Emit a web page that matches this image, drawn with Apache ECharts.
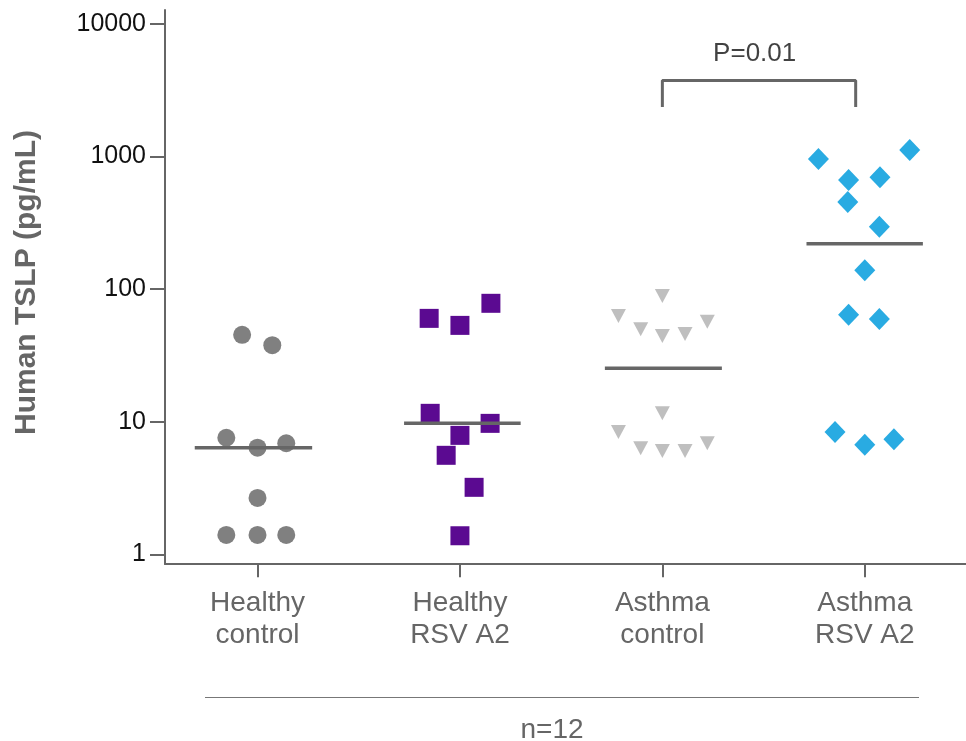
<!DOCTYPE html>
<html>
<head>
<meta charset="utf-8">
<script src="https://cdn.jsdelivr.net/npm/echarts@6/dist/echarts.min.js"></script>
<style>
html,body{margin:0;padding:0;background:#fff;}
#chart{width:966px;height:741px;}
</style>
</head>
<body>
<div id="chart"></div>
<script>
// ---- data ----
const categories = ['Healthy\ncontrol', 'Healthy\nRSV A2', 'Asthma\ncontrol', 'Asthma\nRSV A2'];
const yTicks = [1, 10, 100, 1000, 10000];

// TSLP values (pg/mL) per group and their horizontal jitter (in category units)
const healthyControl       = [45.2, 37.8, 7.57, 6.37, 6.88, 2.66, 1.40, 1.40, 1.40];
const healthyControlJitter = [-0.076, 0.073, -0.154, 0, 0.142, 0, -0.154, 0, 0.142];

const healthyRSV       = [78.2, 60.2, 53.3, 11.57, 9.72, 7.89, 5.58, 3.20, 1.38];
const healthyRSVJitter = [0.153, -0.152, 0, -0.147, 0.149, 0, -0.068, 0.070, 0];

const asthmaControl       = [88.7, 62.7, 49.8, 44.3, 45.9, 56.8, 11.57, 8.36, 6.30, 6.01, 6.01, 6.87];
const asthmaControlJitter = [0, -0.217, -0.107, 0, 0.112, 0.222, 0, -0.217, -0.107, 0, 0.112, 0.222];

const asthmaRSV       = [957, 1120, 665, 697, 454, 296, 138.6, 64.1, 59.5, 8.36, 6.71, 7.37];
const asthmaRSVJitter = [-0.229, 0.222, -0.080, 0.075, -0.084, 0.072, 0, -0.080, 0.072, -0.147, 0, 0.144];

// median lines: value and extent (category units, relative to group centre)
const medians      = [6.37, 9.72, 25.3, 220];
const medianLeft   = [-0.31, -0.276, -0.284, -0.288];
const medianRight  = [0.27, 0.300, 0.294, 0.287];

// significance bracket between groups 2 and 3
const bracketFrom = 2.0, bracketTo = 2.955;
const bracketTop = 3750, bracketBottom = 2362;
const pLabel = 'P=0.01';
const pLabelX = 2.456;
const nLabel = 'n=12';

// ---- build options ----
const FONT = "'Liberation Sans', Arial, Helvetica, sans-serif";
const AX = '#666666';

function pts(vals, jit, g) { return vals.map((v, i) => [g + jit[i], v]); }

const groups = [
  {vals: healthyControl, jit: healthyControlJitter, symbol: 'circle',   size: 18,       color: '#808080', rot: 0},
  {vals: healthyRSV,     jit: healthyRSVJitter,     symbol: 'rect',     size: 19,       color: '#5b0a91', rot: 0},
  {vals: asthmaControl,  jit: asthmaControlJitter,  symbol: 'triangle', size: [15, 14], color: '#bfbfbf', rot: 180},
  {vals: asthmaRSV,      jit: asthmaRSVJitter,      symbol: 'diamond',  size: [21, 22], color: '#29abe2', rot: 0}
];

const series = [];
groups.forEach((g, gi) => {
  series.push({
    type: 'scatter', xAxisIndex: 0, yAxisIndex: 0,
    data: pts(g.vals, g.jit, gi),
    symbol: g.symbol, symbolSize: g.size, symbolRotate: g.rot,
    itemStyle: {color: g.color, opacity: 1},
    z: 2, silent: true
  });
});
medians.forEach((m, gi) => {
  series.push({
    type: 'line', xAxisIndex: 0, yAxisIndex: 0,
    data: [[gi + medianLeft[gi], m], [gi + medianRight[gi], m]],
    symbol: 'none', lineStyle: {color: AX, width: 3.5}, z: 3, silent: true
  });
});
series.push({
  type: 'line', xAxisIndex: 0, yAxisIndex: 0,
  data: [[bracketFrom, bracketBottom], [bracketFrom, bracketTop], [bracketTo, bracketTop], [bracketTo, bracketBottom]],
  symbol: 'none', lineStyle: {color: AX, width: 3}, z: 3, silent: true
});
series.push({
  type: 'scatter', xAxisIndex: 0, yAxisIndex: 0,
  data: [[pLabelX, bracketTop]], symbolSize: 0,
  label: {show: true, position: 'top', distance: 14, formatter: pLabel,
          fontSize: 26, color: '#111', fontFamily: FONT},
  silent: true
});

const option = {
  animation: false,
  backgroundColor: '#fff',
  textStyle: {fontFamily: FONT},
  grid: [
    {left: 165, right: 0, top: 24, bottom: 741 - 554.3, outerBoundsMode: 'none', containLabel: false},
    {left: 165, right: 0, top: 10, bottom: 741 - 564, outerBoundsMode: 'none', containLabel: false}
  ],
  xAxis: [
    {
      type: 'value', gridIndex: 0, min: -0.457, max: 3.5, offset: 10, position: 'bottom',
      axisLine: {show: false, onZero: false},
      axisTick: {show: true, customValues: [0, 1, 2, 3], length: 13, lineStyle: {color: AX, width: 2}},
      axisLabel: {show: true, customValues: [0, 1, 2, 3],
                  formatter: v => categories[Math.round(v)],
                  fontSize: 28, lineHeight: 32, color: '#666', margin: 23, fontFamily: FONT},
      splitLine: {show: false}
    },
    {
      type: 'value', gridIndex: 1, min: 0, max: 1, position: 'bottom',
      axisLine: {show: true, onZero: false, lineStyle: {color: AX, width: 2}},
      axisTick: {show: false}, axisLabel: {show: false}, splitLine: {show: false}
    }
  ],
  yAxis: [
    {
      type: 'log', logBase: 10, gridIndex: 0, position: 'left',
      min: yTicks[0], max: yTicks[yTicks.length - 1],
      axisLine: {show: false, onZero: false},
      axisTick: {show: true, length: 15, lineStyle: {color: AX, width: 2}},
      axisLabel: {show: true, fontSize: 25, color: '#111', margin: 19, fontFamily: FONT,
                  formatter: v => String(Math.round(v))},
      splitLine: {show: false}, minorTick: {show: false}
    },
    {
      type: 'value', gridIndex: 1, min: 0, max: 1, position: 'left',
      axisLine: {show: true, onZero: false, lineStyle: {color: AX, width: 2}},
      axisTick: {show: false}, axisLabel: {show: false}, splitLine: {show: false}
    }
  ],
  graphic: [
    {
      type: 'text', x: 27, y: 282.5, rotation: Math.PI / 2,
      style: {text: 'Human TSLP (pg/mL)', fontSize: 30, fontWeight: 'bold', fontFamily: FONT,
              fill: '#666', align: 'center', verticalAlign: 'middle',
              textAlign: 'center', textVerticalAlign: 'middle'}
    },
    {
      type: 'line', shape: {x1: 205, y1: 697.5, x2: 919, y2: 697.5},
      style: {stroke: '#777', lineWidth: 1}
    },
    {
      type: 'text', x: 552, y: 730,
      style: {text: nLabel, fontSize: 28, fontFamily: FONT, fill: '#666',
              align: 'center', verticalAlign: 'middle', textAlign: 'center', textVerticalAlign: 'middle'}
    }
  ],
  series: series
};

const chart = echarts.init(document.getElementById('chart'), null, {renderer: 'canvas'});
chart.setOption(option);
</script>
</body>
</html>
